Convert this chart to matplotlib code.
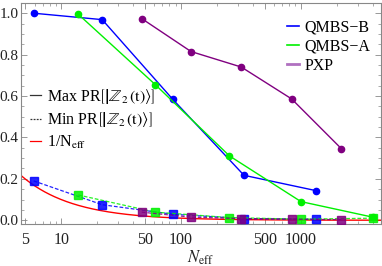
import numpy as np
import matplotlib
matplotlib.use("Agg")
import matplotlib.pyplot as plt
from matplotlib.lines import Line2D
from matplotlib.ticker import FixedLocator, NullFormatter, MultipleLocator

plt.rcParams['font.family'] = ['Liberation Serif', 'DejaVu Serif']
plt.rcParams['mathtext.fontset'] = 'stix'

# effective dimension of each model
n_b = [5.9, 22, 85, 335, 1335]
n_a = [13.9, 61, 253, 1000, 3960]
n_pxp = [47, 121, 318, 836, 2170]

# maximum participation ratio (circles, solid)
max_b = [1.0, 0.969, 0.585, 0.217, 0.143]
max_a = [0.995, 0.655, 0.311, 0.090, 0.015]
max_pxp = [0.974, 0.815, 0.740, 0.586, 0.346]

# minimum participation ratio (squares, dashed)
min_b = [0.190, 0.075, 0.029, 0.008, 0.005]
min_a = [0.122, 0.039, 0.013, 0.005, 0.010]
min_pxp = [0.039, 0.015, 0.008, 0.005, 0.003]

blue = '#0000ff'
green = '#00f000'
purple = '#800080'
frame = '#888888'

fig = plt.figure(figsize=(3.82, 2.66), dpi=100)
ax = fig.add_axes([0.0542, 0.158, 0.9432, 0.832])

n_ref = np.geomspace(4.6, 4650, 300)
ax.plot(n_ref, 1 / n_ref, color='red', lw=1.0, zorder=2)

for n, mx, mn, c in [(n_b, max_b, min_b, blue), (n_a, max_a, min_a, green),
                     (n_pxp, max_pxp, min_pxp, purple)]:
    ax.plot(n, mx, color=c, lw=1.0, marker='o', ms=4.5, zorder=3)
    ax.plot(n, mn, color=c, lw=0.9, ls=(0, (3, 1.5)), marker='s', ms=5.5,
            alpha=0.85, zorder=3)

ax.set_xscale('log')
ax.set_xlim(4.6, 4650)
ax.set_ylim(-0.018, 1.051)

major = [5, 10, 50, 100, 500, 1000]
minor = [k * 10 ** e for e in range(0, 4) for k in range(1, 10)]
minor = [m for m in minor if m not in major and 4.6 < m < 4650]
ax.xaxis.set_major_locator(FixedLocator(major))
ax.xaxis.set_minor_locator(FixedLocator(minor))
ax.xaxis.set_minor_formatter(NullFormatter())
ax.set_xticklabels([str(m) for m in major])
ax.yaxis.set_major_locator(MultipleLocator(0.2))
ax.yaxis.set_minor_locator(MultipleLocator(0.05))
ax.set_yticks([0, 0.2, 0.4, 0.6, 0.8, 1.0])
ax.set_yticklabels(['0.0', '0.2', '0.4', '0.6', '0.8', '1.0'])

ax.tick_params(which='both', direction='in', top=True, right=True,
               colors=frame, labelcolor='#222222', labelsize=11)
ax.tick_params(axis='y', pad=1.5)
ax.tick_params(axis='x', pad=6, labelsize=11.5)
ax.tick_params(which='major', length=4, width=0.6)
ax.tick_params(which='minor', length=2, width=0.5)
for s in ax.spines.values():
    s.set_color(frame)
    s.set_linewidth(0.8)

ax.set_xlabel(r'$N_{\mathrm{eff}}$', fontsize=12, labelpad=0, color='#222222')

h1 = [Line2D([], [], color=blue, lw=1.2),
      Line2D([], [], color=green, lw=1.2),
      Line2D([], [], color='#b070c0', lw=2)]
leg1 = ax.legend(h1, ['QMBS\u2212B', 'QMBS\u2212A', 'PXP'], loc='upper left',
                 bbox_to_anchor=(0.74, 0.925), frameon=False, fontsize=11.5,
                 handlelength=0.7, handletextpad=0.35, labelspacing=0.2,
                 borderpad=0, borderaxespad=0)
ax.add_artist(leg1)

h2 = [Line2D([], [], color='#333333', lw=0.9),
      Line2D([], [], color='#333333', lw=0.9, ls=(0, (1.5, 1))),
      Line2D([], [], color='red', lw=0.9)]
lab2 = [r'Max PR$\left[\left|\mathbb{Z}_2\,(\mathrm{t})\right\rangle\right]$',
        r'Min PR$\left[\left|\mathbb{Z}_2\,(\mathrm{t})\right\rangle\right]$',
        r'1/N$_{\mathrm{eff}}$']
ax.legend(h2, lab2, loc='upper left', bbox_to_anchor=(0.025, 0.62),
          frameon=False, fontsize=11.5, handlelength=0.7, handletextpad=0.4,
          labelspacing=0.28, borderpad=0, borderaxespad=0)

fig.savefig('out.png', dpi=100)
